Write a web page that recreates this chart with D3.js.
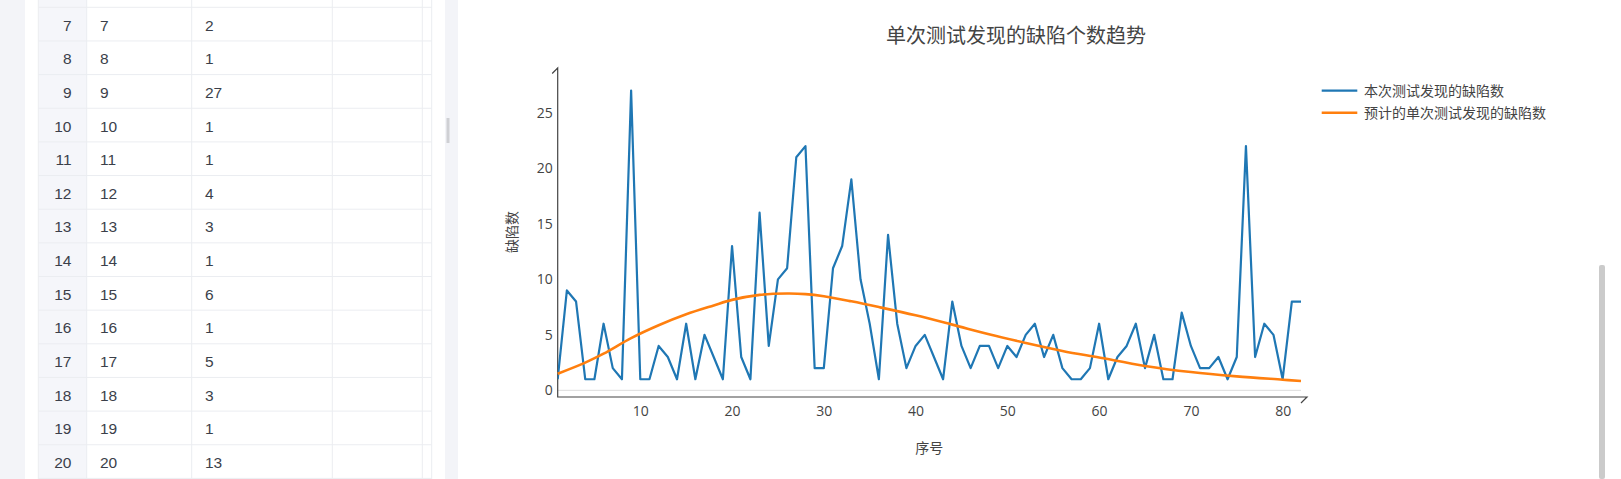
<!DOCTYPE html>
<html>
<head>
<meta charset="utf-8">
<script src="https://cdn.jsdelivr.net/npm/d3@7"></script>
<style>
    html, body { margin: 0; padding: 0; background: #f3f4f8; overflow: hidden; }
    svg { display: block; }
    .tick text { fill: #444; }
</style>
</head>
<body>
<svg id="page" width="1621" height="479"></svg>
<script>

/* Daten */

// Sequenznummern 1..82 (x-Achse)
let seqNo = [];
for (let i = 1; i <= 82; i++) seqNo.push(i);

// gefundene Defekte pro Testlauf (blaue Linie)
let defects = [1, 9, 8, 1, 1, 6, 2, 1, 27, 1,
    1, 4, 3, 1, 6, 1, 5, 3, 1, 13,
    3, 1, 16, 4, 10, 11, 21, 22, 2, 2,
    11, 13, 19, 10, 6, 1, 14, 6, 2, 4,
    5, 3, 1, 8, 4, 2, 4, 4, 2, 4,
    3, 5, 6, 3, 5, 2, 1, 1, 2, 6,
    1, 3, 4, 6, 2, 5, 1, 1, 7, 4,
    2, 2, 3, 1, 3, 22, 3, 6, 5, 1,
    8, 8];

let predX = [1, 4, 6, 9, 12, 15, 18, 20, 23, 26, 28, 30, 33, 36, 40, 44, 48, 52, 56, 60, 65, 70, 75, 80, 82];
let predY = [1.5, 2.5, 3.3, 4.7, 5.86, 6.85, 7.65, 8.15, 8.6, 8.72, 8.67, 8.48, 8.02, 7.5, 6.76, 5.92, 5.05, 4.27, 3.55, 2.95, 2.2, 1.65, 1.26, 0.96, 0.84];

let xTicks = [10, 20, 30, 40, 50, 60, 70, 80];
let yTicks = [0, 5, 10, 15, 20, 25];

let seriesNames = ["本次测试发现的缺陷数", "预计的单次测试发现的缺陷数"];
let seriesColors = ["#1f77b4", "#ff7f0e"];

// sichtbare Tabellenzeilen links
let tableRows = [7, 8, 9, 10, 11, 12, 13, 14, 15, 16, 17, 18, 19, 20];

let svg = d3.select("#page");
let fontCN = "'Open Sans', 'Noto Sans CJK SC', sans-serif";

/* Linkes Panel: Tabelle */

svg.append("rect")
    .attr("x", 25).attr("y", 0)
    .attr("width", 420).attr("height", 479)
    .attr("fill", "#fff");

let rowH = 33.65,
    rowTop0 = 7.3;

svg.append("rect")
    .attr("x", 38.3).attr("y", 0)
    .attr("width", 48.4).attr("height", 479)
    .attr("fill", "#f5f6fa");

// Spaltenlinien
[38.3, 86.7, 191.7, 332.3, 422.3, 431.7].forEach(function (cx) {
    svg.append("line")
        .attr("x1", cx).attr("x2", cx)
        .attr("y1", 0).attr("y2", 479)
        .attr("stroke", "#ebedf1")
        .attr("stroke-width", 1);
});

// Zeilenlinien
svg.selectAll(".rowline")
    .data(tableRows.concat([21]))
    .enter()
    .append("line")
    .attr("class", "rowline")
    .attr("x1", 38.3).attr("x2", 431.7)
    .attr("y1", function (d, i) { return rowTop0 + i * rowH; })
    .attr("y2", function (d, i) { return rowTop0 + i * rowH; })
    .attr("stroke", "#ebedf1")
    .attr("stroke-width", 1);

let rowG = svg.selectAll(".trow")
    .data(tableRows)
    .enter()
    .append("g")
    .attr("class", "trow")
    .attr("transform", function (d, i) {
        return "translate(0," + (rowTop0 + i * rowH + rowH / 2 + 1) + ")";
    })
    .style("font-family", "'Liberation Sans', Arial, sans-serif")
    .style("font-size", "15.5px")
    .attr("fill", "#3b3f4a");

rowG.append("text")
    .attr("x", 71.5)
    .attr("text-anchor", "end")
    .attr("dy", "0.35em")
    .text(function (d) { return d; });

rowG.append("text")
    .attr("x", 100)
    .attr("dy", "0.35em")
    .text(function (d) { return seqNo[d - 1]; });

rowG.append("text")
    .attr("x", 205)
    .attr("dy", "0.35em")
    .text(function (d) { return defects[d - 1]; });

// Splitter-Griff
svg.append("rect")
    .attr("x", 446.5).attr("y", 118)
    .attr("width", 3).attr("height", 25)
    .attr("fill", "#cfd0d4");

/* Rechtes Panel: Diagramm */

svg.append("rect")
    .attr("x", 458).attr("y", 0)
    .attr("width", 1163).attr("height", 479)
    .attr("fill", "#fff");

// Scrollbalken
svg.append("rect")
    .attr("x", 1599).attr("y", 265)
    .attr("width", 6).attr("height", 214)
    .attr("rx", 2)
    .attr("fill", "#cbcbcb");

let xScale = d3.scaleLinear()
    .domain([1, 82])
    .range([557.7, 1301]);

let yScale = d3.scaleLinear()
    .domain([-0.6, 29.1])
    .range([397, 67.3]);

let chart = svg.append("g")
    .style("font-family", fontCN);

// Nulllinie
chart.append("line")
    .attr("x1", xScale(1)).attr("x2", xScale(82))
    .attr("y1", yScale(0)).attr("y2", yScale(0))
    .attr("stroke", "#dcdcdc")
    .attr("stroke-width", 1);

// X-Achse
let xAxis = d3.axisBottom(xScale)
    .tickValues(xTicks)
    .tickSize(0)
    .tickSizeOuter(0)
    .tickPadding(9);

let gx = chart.append("g")
    .attr("transform", "translate(0," + yScale.range()[0] + ")")
    .call(xAxis);
gx.select(".domain").remove();
gx.selectAll("text").style("font-size", "14px").style("font-family", fontCN);

// Y-Achse
let yAxis = d3.axisLeft(yScale)
    .tickValues(yTicks)
    .tickSize(0)
    .tickSizeOuter(0)
    .tickPadding(5);

let gy = chart.append("g")
    .attr("transform", "translate(" + xScale.range()[0] + ",0)")
    .call(yAxis);
gy.select(".domain").remove();
gy.selectAll("text").style("font-size", "14px").style("font-family", fontCN);

// Achsenlinien mit halber Pfeilspitze
let x0 = xScale.range()[0],
    y0 = yScale.range()[0],
    xEnd = xScale.range()[1] + 6,
    yEnd = yScale.range()[1] + 0.7;

chart.append("path")
    .attr("d", "M" + (xEnd - 6) + "," + (y0 + 6) + "L" + xEnd + "," + y0 +
        "H" + x0 + "V" + yEnd + "L" + (x0 - 5.5) + "," + (yEnd + 5.5))
    .attr("fill", "none")
    .attr("stroke", "#444")
    .attr("stroke-width", 1.2);

// Linien
chart.append("clipPath")
    .attr("id", "plotclip")
    .append("rect")
    .attr("x", x0).attr("y", yEnd)
    .attr("width", xScale.range()[1] - x0 + 2)
    .attr("height", y0 - yEnd);

chart.append("path")
    .datum(seqNo)
    .attr("fill", "none")
    .attr("stroke", seriesColors[0])
    .attr("stroke-width", 2.2)
    .attr("stroke-linejoin", "round")
    .attr("clip-path", "url(#plotclip)")
    .attr("d", d3.line()
        .x(function (d) { return xScale(d); })
        .y(function (d) { return yScale(defects[d - 1]); }));

chart.append("path")
    .datum(predX)
    .attr("fill", "none")
    .attr("stroke", seriesColors[1])
    .attr("stroke-width", 2.6)
    .attr("d", d3.line()
        .curve(d3.curveCatmullRom.alpha(0.5))
        .x(function (d) { return xScale(d); })
        .y(function (d, i) { return yScale(predY[i]); }));

// Titel
svg.append("text")
    .attr("x", 1016)
    .attr("y", 36)
    .attr("dy", "0.35em")
    .attr("text-anchor", "middle")
    .style("font-family", fontCN)
    .style("font-size", "20px")
    .attr("fill", "#444")
    .text("单次测试发现的缺陷个数趋势");

// Achsentitel
svg.append("text")
    .attr("x", (xScale.range()[0] + xScale.range()[1]) / 2)
    .attr("y", 448)
    .attr("dy", "0.35em")
    .attr("text-anchor", "middle")
    .style("font-family", fontCN)
    .style("font-size", "14px")
    .attr("fill", "#444")
    .text("序号");

svg.append("text")
    .attr("transform", "translate(512,232) rotate(-90)")
    .attr("dy", "0.35em")
    .attr("text-anchor", "middle")
    .style("font-family", fontCN)
    .style("font-size", "14px")
    .attr("fill", "#444")
    .text("缺陷数");

// Legende
let legend = svg.selectAll(".legend")
    .data(seriesNames)
    .enter()
    .append("g")
    .attr("class", "legend")
    .attr("transform", function (d, i) { return "translate(1321.7," + (90.7 + i * 22) + ")"; });

legend.append("line")
    .attr("x1", 0).attr("x2", 35.6)
    .attr("stroke", function (d, i) { return seriesColors[i]; })
    .attr("stroke-width", function (d, i) { return i === 0 ? 2.2 : 2.6; });

legend.append("text")
    .attr("x", 42.3)
    .attr("dy", "0.35em")
    .style("font-family", fontCN)
    .style("font-size", "14px")
    .attr("fill", "#444")
    .text(function (d) { return d; });

</script>
</body>
</html>
